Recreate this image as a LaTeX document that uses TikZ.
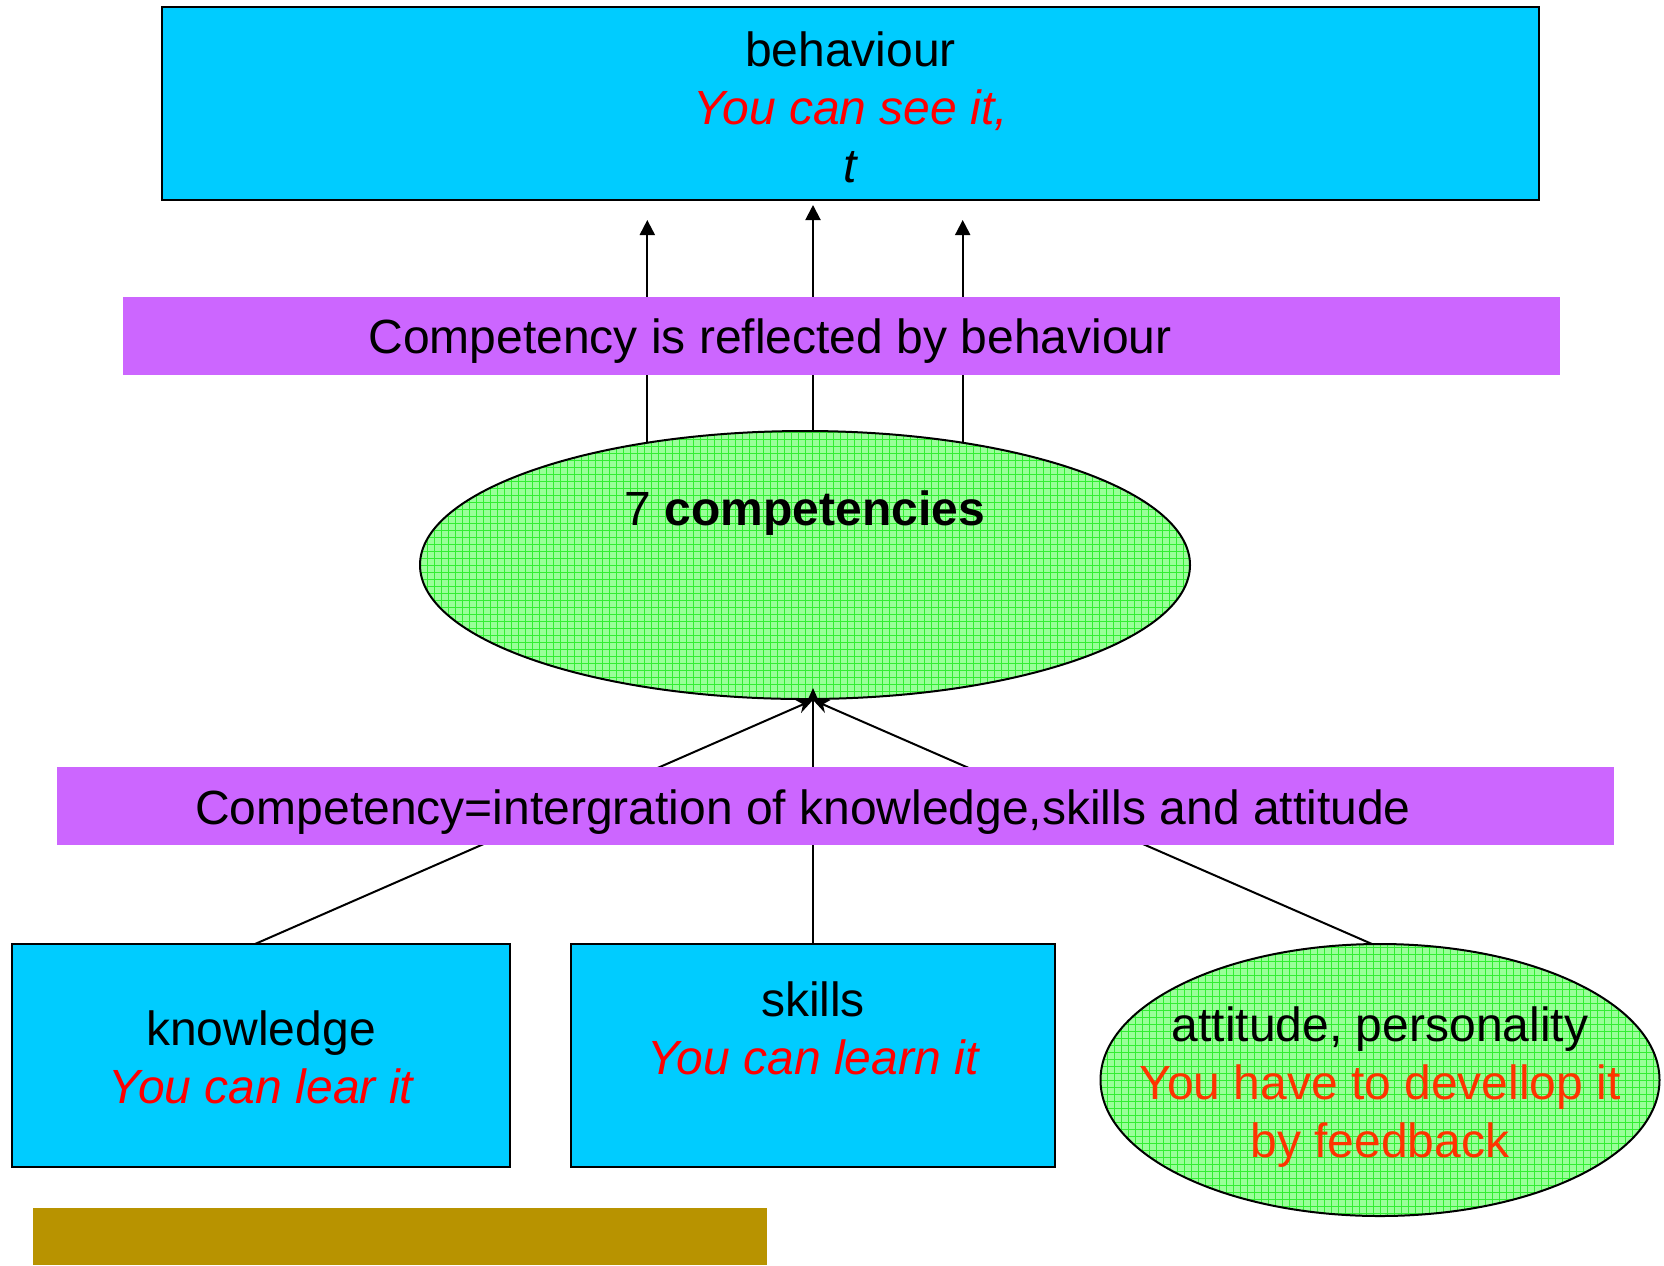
\documentclass[tikz,border=0pt]{standalone}
\usepackage{fontspec}
\setmainfont{Liberation Sans}
\usetikzlibrary{arrows.meta,shapes.geometric}
\definecolor{boxblue}{HTML}{00CCFF}
\definecolor{barpurple}{HTML}{CC66FF}
\definecolor{ellgreen}{HTML}{99FF99}
\definecolor{gridgreen}{HTML}{33EE33}
\definecolor{goldbar}{HTML}{B89300}
\definecolor{txtred}{HTML}{FF0000}
\definecolor{txtorange}{HTML}{FF3300}
\begin{document}
\begin{tikzpicture}[x=0.5pt,y=-0.5pt,
  txt/.style={font=\fontsize{24}{29}\selectfont, align=center, inner sep=0pt},
  bluebox/.style={draw=black, line width=1pt, fill=boxblue, rectangle, inner sep=0pt},
  bar/.style={fill=barpurple, rectangle, inner sep=0pt},
  gridell/.style={ellipse, draw=black, line width=1pt, fill=ellgreen, inner sep=0pt,
    path picture={\draw[gridgreen, line width=0.35pt, step=3.5pt] (path picture bounding box.south west) grid (path picture bounding box.north east);}},
  uparrow/.style={line width=1pt, -{Triangle[length=7.5pt,width=7.5pt]}},
  inarrow/.style={line width=1pt, -{Stealth[length=8pt,width=7pt]}},
  ]
\useasboundingbox (0,0) rectangle (1664,1265);

% top box
\node[bluebox, minimum width=688.5pt, minimum height=96.5pt] (beh) at (850.5,103.5) {};
\node[txt] (beht) at (850.5,107)
  {behaviour\\ \textcolor{txtred}{\itshape You can see it,}\\ \itshape t};

% green ellipse
\node[gridell, minimum width=385pt, minimum height=134pt] (comp7) at (805,565) {};
\node[txt] (comp7t) at (805,513) {7 \textbf{competencies}};

% arrows from ellipse to behaviour
\coordinate (t1) at (647,220);
\coordinate (t2) at (813,205);
\coordinate (t3) at (962,220);
\draw[uparrow] (comp7.142.3) -- (comp7.142.3 |- t1);
\draw[uparrow] (t2 |- comp7.north) -- (t2);
\draw[uparrow] (comp7.38.2) -- (comp7.38.2 |- t3);

% purple bar 1 (on top of arrows)
\node[bar, minimum width=718.5pt, minimum height=39pt] (bar1) at (841.5,336) {};
\node[txt] (bar1t) at (770,341) {Competency is reflected by behaviour};

% bottom nodes
\node[bluebox, minimum width=249pt, minimum height=111.5pt] (know) at (261,1055.5) {};
\node[txt] (knowt) at (261,1057) {knowledge\\ \textcolor{txtred}{\itshape You can lear it}};
\node[bluebox, minimum width=242pt, minimum height=111.5pt] (skill) at (813,1055.5) {};
\node[txt] (skillt) at (813,1028) {skills\\ \textcolor{txtred}{\itshape You can learn it}};
\node[gridell, minimum width=279.5pt, minimum height=136pt] (att) at (1380,1080) {};
\node[txt] (attt) at (1380,1087) {attitude, personality\\ \textcolor{txtorange}{You have to devellop it}\\ \textcolor{txtorange}{by feedback}};

% arrows into ellipse
\coordinate (tipside) at (813,700);
\coordinate (tipmid) at (813,688);
\draw[inarrow] (255,944) coordinate (kt) -- (tipside);
\draw[inarrow] (skill.north) -- (tipmid);
\draw[inarrow] (1372,944) coordinate (at) -- (tipside);

% purple bar 2 (on top of lines)
\node[bar, minimum width=778.5pt, minimum height=39pt] (bar2) at (835.5,806) {};
\node[txt] (bar2t) at (803,812) {Competency=intergration of knowledge,skills and attitude};

% gold bar
\node[fill=goldbar, rectangle, inner sep=0pt, minimum width=367pt, minimum height=28.5pt] (gold) at (400,1236.5) {};
\end{tikzpicture}
\end{document}
